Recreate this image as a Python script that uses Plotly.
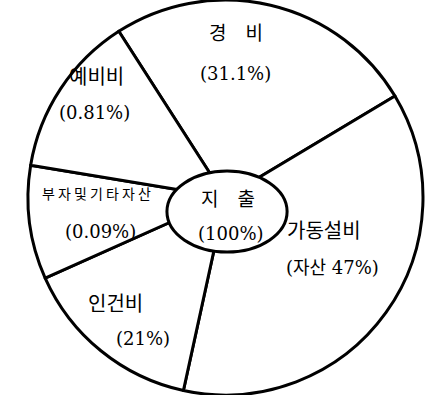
import plotly.graph_objects as go

# slices clockwise from the 경비 / 예비비 boundary
slice_names = ['경비', '가동설비', '인건비', '부자및기타자산', '예비비']
# shares as drawn in the picture (angle of each slice, %), not the printed figures
drawn_share = [25.5, 37.0, 14.9, 9.3, 13.3]

# printed labels
label_text = ['경　비', '가동설비', '인건비', '부 자 및 기 타 자 산', '예비비']
pct_text = ['(31.1%)', '(자산 47%)', '(21%)', '(0.09%)', '(0.81%)']
center_title = '지　출'
center_pct = '(100%)'

KR_FONT = 'Noto Sans CJK KR'
NUM_FONT = 'DejaVu Serif, Noto Sans CJK KR'

fig = go.Figure()
fig.add_trace(go.Pie(
    labels=slice_names,
    values=drawn_share,
    sort=False,
    direction='clockwise',
    rotation=-32.7,
    marker=dict(colors=['white'] * len(slice_names),
                line=dict(color='black', width=3)),
    textinfo='none',
    hoverinfo='skip',
    showlegend=False,
    domain=dict(x=[0.032, 1.0], y=[0.0, 1.0]),
))

# central ellipse
fig.add_shape(type='circle', xref='paper', yref='paper',
              x0=0.382, x1=0.657, y0=0.362, y1=0.567,
              fillcolor='white', line=dict(color='black', width=3))

# label positions (paper coords) for name and percentage of each slice
name_pos = [(0.540, 0.919), (0.741, 0.418), (0.265, 0.235), (0.220, 0.511), (0.220, 0.810)]
pct_pos = [(0.538, 0.815), (0.762, 0.324), (0.327, 0.144), (0.229, 0.413), (0.217, 0.714)]
name_size = [19, 20, 20, 14, 20]
pct_size = [18, 18, 18, 18, 18]


def label(x, y, text, size, family):
    fig.add_annotation(x=x, y=y, xref='paper', yref='paper', text=text,
                       showarrow=False, xanchor='center', yanchor='middle',
                       font=dict(family=family, size=size, color='black'))


for i in range(len(slice_names)):
    label(name_pos[i][0], name_pos[i][1], label_text[i], name_size[i], KR_FONT)
    label(pct_pos[i][0], pct_pos[i][1], pct_text[i], pct_size[i], NUM_FONT)

label(0.521, 0.501, center_title, 19, KR_FONT)
label(0.529, 0.410, center_pct, 18, NUM_FONT)

fig.update_layout(width=437, height=395,
                  margin=dict(l=0, r=0, t=0, b=0),
                  paper_bgcolor='white', plot_bgcolor='white')

fig.write_html("out.html", config={'displayModeBar': False},
               post_script="document.body.style.margin='0';")
